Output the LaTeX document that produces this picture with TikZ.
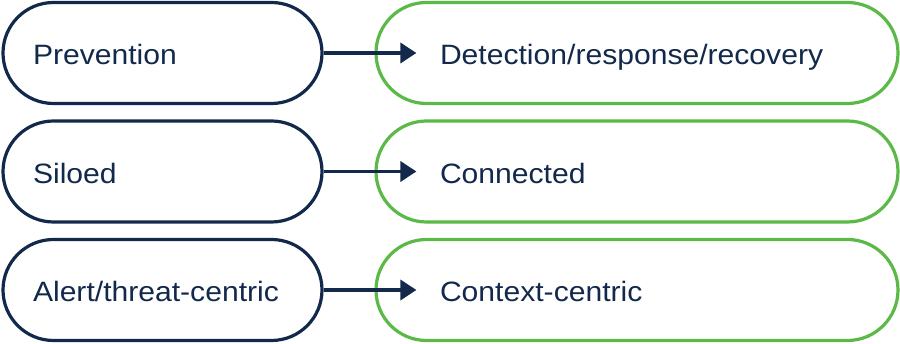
\documentclass[tikz,border=0pt]{standalone}
\usepackage{fontspec}
\setmainfont[FakeStretch=1.075]{Liberation Sans}
\usetikzlibrary{arrows.meta,calc}
\definecolor{navy}{HTML}{13294B}
\definecolor{leaf}{HTML}{5BB947}
\begin{document}
\begin{tikzpicture}[x=1pt,y=1pt,
  base/.style={rectangle, rounded corners=50.5pt, line width=3.2pt, minimum height=101pt,
    align=left, font=\fontsize{28}{32}\selectfont, text=navy, text height=24pt, text depth=0pt},
  oldbox/.style={base, draw=navy, minimum width=319pt, inner xsep=30pt, text width=259pt},
  newbox/.style={base, draw=leaf, minimum width=522pt, inner xsep=64pt, text width=394pt},
  flow/.style={draw=navy, line width=3.5pt, -{Triangle[length=16pt,width=20pt]}}]
\useasboundingbox (0,0) rectangle (900,344);
\node[newbox] (r1) at (637,291) {Detection/response/recovery};
\node[newbox] (r2) at (637,172.5) {Connected};
\node[newbox] (r3) at (637,54) {Context-centric};
\node[oldbox] (l1) at (162.5,291) {Prevention};
\node[oldbox] (l2) at (162.5,172.5) {Siloed};
\node[oldbox] (l3) at (162.5,54) {Alert/threat-centric};
\coordinate (t1) at ($(r1.west)+(42,0)$);
\coordinate (t2) at ($(r2.west)+(42,0)$);
\coordinate (t3) at ($(r3.west)+(42,0)$);
\draw[flow] (l1.east) -- (t1);
\draw[flow] (l2.east) -- (t2);
\draw[flow] (l3.east) -- (t3);
\end{tikzpicture}
\end{document}
